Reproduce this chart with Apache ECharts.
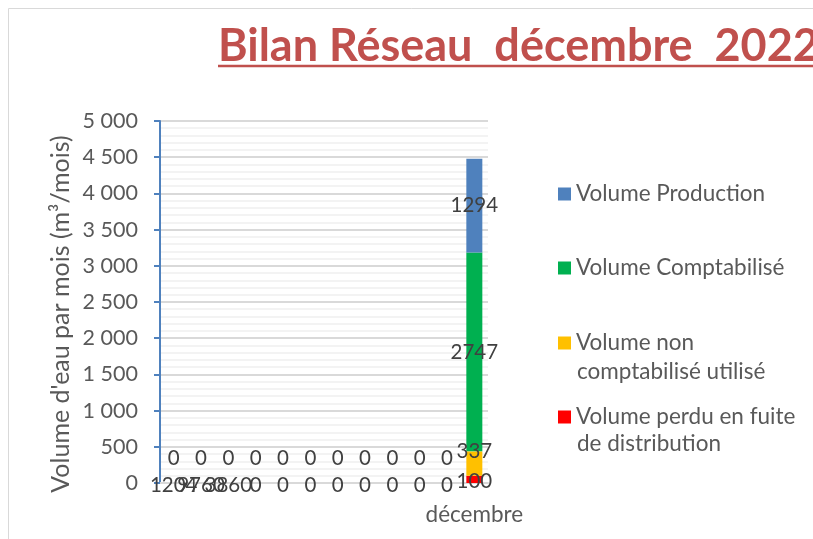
<!DOCTYPE html>
<html>
<head>
<meta charset="utf-8">
<script src="https://cdn.jsdelivr.net/npm/echarts@6/dist/echarts.min.js"></script>
<style>
html,body{margin:0;padding:0;background:#fff;}
#chart{width:813px;height:539px;}
</style>
</head>
<body>
<div id="chart"></div>
<script>
// ---- data ----
const categories = ['', '', '', '', '', '', '', '', '', '', '', 'décembre'];
const seriesNames = ['Volume perdu en fuite de distribution', 'Volume non comptabilisé utilisé', 'Volume Comptabilisé', 'Volume Production'];
const perdu = [0, 0, 0, 0, 0, 0, 0, 0, 0, 0, 0, 100];
const nonComptabilise = [0, 0, 0, 0, 0, 0, 0, 0, 0, 0, 0, 337];
const comptabilise = [0, 0, 0, 0, 0, 0, 0, 0, 0, 0, 0, 2747];
const production = [0, 0, 0, 0, 0, 0, 0, 0, 0, 0, 0, 1294];
const perduLabels = ['1204', '9760', '3860', '0', '0', '0', '0', '0', '0', '0', '0', '100'];
const legendOrder = ['Volume Production', 'Volume Comptabilisé', 'Volume non comptabilisé utilisé', 'Volume perdu en fuite de distribution'];
const legendFirstLines = ['Volume Production', 'Volume Comptabilisé', 'Volume non', 'Volume perdu en fuite'];
const legendSecondLines = ['', '', 'comptabilisé utilisé', 'de distribution'];

// ---- styles ----
const FONT = 'Lato';
const TXT = '#595959';
const LBL = '#404040';
const colors = ['#FF0000', '#FFC000', '#00B050', '#4F81BD'];
const legendTops = [181, 255, 330, 404];
const secondLineY = [0, 0, 372, 444];

const chart = echarts.init(document.getElementById('chart'), null, {renderer: 'canvas'});

function fmtThousands(v) {
  if (v >= 1000) return Math.floor(v / 1000) + ' ' + String(v % 1000).padStart(3, '0');
  return String(v);
}

const labelBase = {show: true, fontFamily: FONT, fontSize: 20.5, color: LBL};

const option = {
  animation: false,
  title: {
    text: 'Bilan Réseau  décembre  2022',
    left: 213, top: 19,
    textStyle: {fontFamily: FONT, fontWeight: 'bold', fontSize: 45, color: '#C0504D'}
  },
  grid: {left: 160, right: 325, top: 121, bottom: 56},
  xAxis: {
    type: 'category',
    data: categories,
    axisLine: {show: true, lineStyle: {color: '#d9d9d9', width: 2}},
    axisTick: {show: false},
    axisLabel: {interval: 0, margin: 20, fontFamily: FONT, fontSize: 22.5, color: TXT}
  },
  yAxis: {
    type: 'value',
    min: 0, max: 5000, interval: 500,
    name: 'Volume d\'eau par mois (m³/mois)',
    nameLocation: 'middle',
    nameGap: 87,
    nameTextStyle: {fontFamily: FONT, fontSize: 25, color: TXT, padding: [0, 24, 0, 0]},
    axisLine: {show: true, lineStyle: {color: '#4F81BD', width: 2}},
    axisTick: {show: true, length: 6, lineStyle: {color: '#4F81BD', width: 2}},
    axisLabel: {margin: 22, fontFamily: FONT, fontSize: 21.5, color: TXT, formatter: fmtThousands},
    splitLine: {show: true, lineStyle: {color: '#d9d9d9', width: 2}},
    minorTick: {show: false, splitNumber: 5},
    minorSplitLine: {show: true, lineStyle: {color: '#f0f0f0', width: 1.5}}
  },
  legend: legendOrder.map((name, i) => ({
    data: [name],
    orient: 'vertical',
    left: 558, top: legendTops[i],
    padding: 0,
    icon: 'rect', itemWidth: 13, itemHeight: 13,
    selectedMode: false,
    formatter: () => legendFirstLines[i],
    textStyle: {fontFamily: FONT, fontSize: 22.5, color: TXT, lineHeight: 26}
  })),
  graphic: [
    {type: 'rect', silent: true, shape: {x: 8.5, y: 8.5, width: 1000, height: 1000},
     style: {fill: 'none', stroke: '#d9d9d9', lineWidth: 1}},
    {type: 'line', silent: true, shape: {x1: 218, y1: 66, x2: 813, y2: 66},
     style: {stroke: '#C0504D', lineWidth: 2.5}},
    ...legendSecondLines.map((t, i) => t ? {
      type: 'text', silent: true, left: 577, top: secondLineY[i] - 13,
      style: {text: t, fontFamily: FONT, fontSize: 22.5, fill: TXT, lineHeight: 26}
    } : null).filter(Boolean)
  ],
  series: [
    {
      name: seriesNames[0], type: 'bar', stack: 'total', barWidth: 16,
      itemStyle: {color: colors[0]},
      label: Object.assign({}, labelBase, {position: 'inside', offset: [0, 2], formatter: p => perduLabels[p.dataIndex]}),
      data: perdu
    },
    {
      name: seriesNames[1], type: 'bar', stack: 'total', barWidth: 16,
      itemStyle: {color: colors[1]},
      label: Object.assign({}, labelBase, {position: 'inside'}),
      data: nonComptabilise.map(v => ({value: v, label: {offset: [0, v === 0 ? -25 : -12]}}))
    },
    {
      name: seriesNames[2], type: 'bar', stack: 'total', barWidth: 16,
      itemStyle: {color: colors[2]},
      label: Object.assign({}, labelBase, {position: 'inside', formatter: p => p.value ? String(p.value) : ''}),
      data: comptabilise
    },
    {
      name: seriesNames[3], type: 'bar', stack: 'total', barWidth: 16,
      itemStyle: {color: colors[3]},
      label: Object.assign({}, labelBase, {position: 'inside', formatter: p => p.value ? String(p.value) : ''}),
      data: production
    }
  ]
};
chart.setOption(option);
</script>
</body>
</html>
